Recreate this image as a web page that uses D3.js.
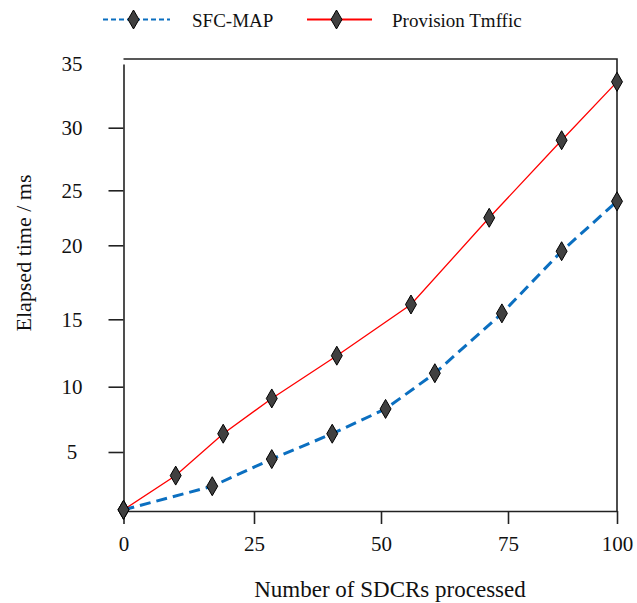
<!DOCTYPE html>
<html>
<head>
<meta charset="utf-8">
<script src="https://cdn.jsdelivr.net/npm/d3@7"></script>
<style>
  body { margin: 0; background: #fff; }
  text { font-family: "Liberation Serif", "Times New Roman", serif; fill: #111; }
</style>
</head>
<body>
<script>
// values
const seriesNames = ["SFC-MAP", "Provision Tmffic"];
const sfcX = [0, 17, 28.5, 40.4, 50.9, 60.6, 73.8, 87.3, 100];
const sfcY = [0.1, 2.1, 4.4, 6.4, 8.3, 11.0, 15.4, 19.6, 24.0];
const ptX = [0, 10, 19.1, 28.5, 41.3, 55.9, 71.3, 87.3, 100];
const ptY = [0.1, 3.0, 6.4, 9.1, 12.3, 16.0, 22.5, 29.0, 33.6];
const xTicks = [0, 25, 50, 75, 100];
const yTicks = [5, 10, 15, 20, 25, 30, 35];
const xTitle = "Number of SDCRs processed";
const yTitle = "Elapsed time / ms";

const width = 637, height = 603;
const plotLeft = 123.5, plotRight = 617, plotTop = 59, plotBottom = 511;

const svg = d3.select("body").append("svg")
    .attr("width", width)
    .attr("height", height);

// the original axes are not evenly spaced, so use piecewise scales
const x = d3.scaleLinear()
    .domain(xTicks)
    .range([plotLeft, 254, 381, 508, plotRight]);

const y = d3.scaleLinear()
    .domain([0, 5, 10, 15, 20, 25, 30, 35])
    .range([plotBottom, 452, 386.7, 319.3, 245.3, 190.3, 127.7, 64]);

// frame: top + right border
svg.append("path")
    .attr("d", `M${plotLeft},${plotTop}H${plotRight}V${plotBottom}`)
    .attr("fill", "none")
    .attr("stroke", "#222")
    .attr("stroke-width", 1.6);

// x axis
const gx = svg.append("g")
    .attr("transform", `translate(0,${plotBottom})`)
    .call(d3.axisBottom(x).tickValues(xTicks).tickSize(13).tickSizeOuter(0).tickFormat(d3.format("d")));
gx.select(".domain").attr("stroke", "#222").attr("stroke-width", 1.6);
gx.selectAll(".tick line").attr("stroke", "#222").attr("stroke-width", 1.6);
gx.selectAll(".tick text")
    .attr("y", 38)
    .attr("dy", "0.1em")
    .style("font-size", "21px")
    .style("font-family", "Liberation Serif");

// y axis
const gy = svg.append("g")
    .attr("transform", `translate(${plotLeft},0)`)
    .call(d3.axisLeft(y).tickValues(yTicks).tickSize(15).tickSizeOuter(0));
gy.select(".domain").attr("stroke", "#222").attr("stroke-width", 1.6);
gy.selectAll(".tick line").attr("stroke", "#222").attr("stroke-width", 1.6);
gy.selectAll(".tick").filter(d => d === 35).select("line").remove();
gy.selectAll(".tick text")
    .attr("x", 72 - plotLeft)
    .attr("text-anchor", "middle")
    .style("font-size", "21px")
    .style("font-family", "Liberation Serif");

// axis titles
svg.append("text")
    .attr("x", 390)
    .attr("y", 597)
    .attr("text-anchor", "middle")
    .style("font-size", "23px")
    .text(xTitle);

svg.append("text")
    .attr("transform", "translate(31,253) rotate(-90)")
    .attr("text-anchor", "middle")
    .style("font-size", "22px")
    .text(yTitle);

// lines
const line = d3.line()
    .x(d => x(d[0]))
    .y(d => y(d[1]));

const sfc = sfcX.map((v, i) => [v, sfcY[i]]);
const pt = ptX.map((v, i) => [v, ptY[i]]);

svg.append("path")
    .attr("d", line(pt))
    .attr("fill", "none")
    .attr("stroke", "red")
    .attr("stroke-width", 1.3);

svg.append("path")
    .attr("d", line(sfc))
    .attr("fill", "none")
    .attr("stroke", "#0b6fc0")
    .attr("stroke-width", 3)
    .attr("stroke-dasharray", "11,6");

// diamond markers
const diamond = d3.symbol().type(d3.symbolDiamond).size(104);

[sfc, pt].forEach(points => {
  svg.append("g").selectAll("path")
    .data(points)
    .join("path")
    .attr("transform", d => `translate(${x(d[0])},${y(d[1])})`)
    .attr("d", diamond)
    .attr("fill", "#404040")
    .attr("stroke", "#000")
    .attr("stroke-width", 1);
});

// legend
const legend = svg.append("g");
const legendItems = [
  { name: seriesNames[0], x0: 103, x1: 170, tx: 192, color: "#0b6fc0", w: 2.2, dash: "5,3" },
  { name: seriesNames[1], x0: 307, x1: 372, tx: 392, color: "red", w: 1.8, dash: null }
];
legendItems.forEach(it => {
  legend.append("line")
      .attr("x1", it.x0).attr("x2", it.x1)
      .attr("y1", 19.5).attr("y2", 19.5)
      .attr("stroke", it.color)
      .attr("stroke-width", it.w)
      .attr("stroke-dasharray", it.dash);
  legend.append("path")
      .attr("transform", `translate(${(it.x0 + it.x1) / 2 - 3},19.5)`)
      .attr("d", diamond)
      .attr("fill", "#404040")
      .attr("stroke", "#000")
      .attr("stroke-width", 1);
  legend.append("text")
      .attr("x", it.tx)
      .attr("y", 26.5)
      .style("font-size", "19px")
      .text(it.name);
});
</script>
</body>
</html>
